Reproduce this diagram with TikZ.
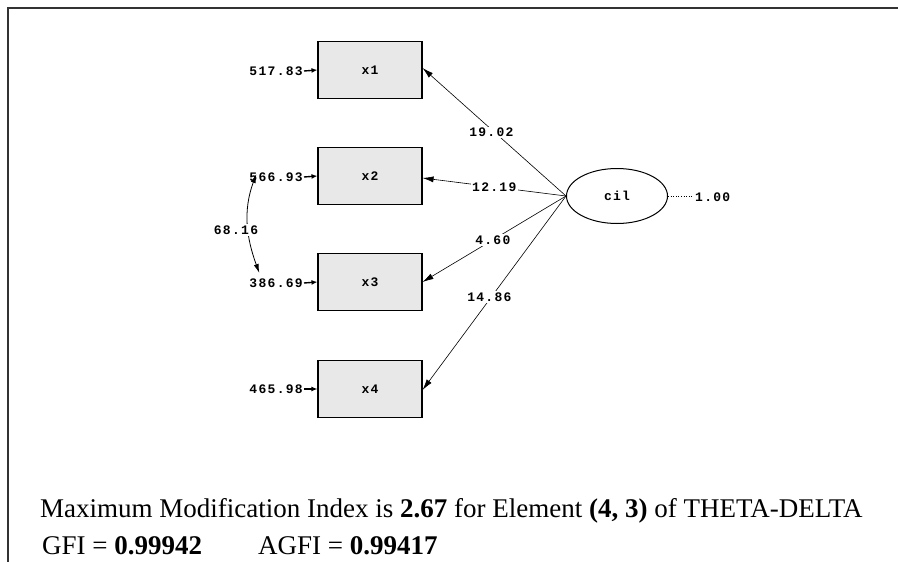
\documentclass[tikz,border=0pt]{standalone}
\usepackage{fontspec}
\setmainfont{Liberation Serif}
\newfontfamily\pathfont{Liberation Mono}[LetterSpace=10]
\usetikzlibrary{arrows.meta,shapes.geometric}
\tikzset{
  obsbox/.style={draw=black, line width=1.1pt, fill=black!9, minimum width=104pt,
    minimum height=57pt, inner sep=0pt, font=\pathfont\bfseries\fontsize{13}{13}\selectfont},
  latent/.style={ellipse, draw=black, line width=1pt, fill=white, minimum width=101pt,
    minimum height=55pt, inner sep=0pt, font=\pathfont\bfseries\fontsize{13}{13}\selectfont},
  numlab/.style={font=\pathfont\bfseries\fontsize{13}{13}\selectfont, inner sep=1pt},
  onpath/.style={numlab, fill=white, inner sep=1.5pt},
  loading/.style={line width=0.6pt, -{Latex[length=11pt,width=6pt]}},
  errarrow/.style={line width=1.4pt, -{Latex[length=6pt,width=5pt]}},
  covarrow/.style={line width=0.8pt, {Latex[length=9pt,width=5pt]}-{Latex[length=9pt,width=5pt]}},
  frameline/.style={line width=1.1pt, black!80},
  summary/.style={anchor=base west, inner sep=0pt, font=\fontsize{27}{27}\selectfont}
}
\begin{document}
\begin{tikzpicture}[x=1pt,y=-1pt]
\useasboundingbox (0,0) rectangle (898,562);

% page frame (top and left rules)
\draw[frameline] (898,8) -- (8,8) -- (8,562);

% observed indicators
\node[obsbox] (x1) at (370,70) {x1};
\node[obsbox] (x2) at (370,176) {x2};
\node[obsbox] (x3) at (370,282) {x3};
\node[obsbox] (x4) at (370,389) {x4};

% latent factor
\node[latent] (cil) at (617,196) {cil};
\coordinate (vend) at (692,196);
\node[numlab, anchor=west] (var) at (694,197) {1.00};
\draw[line width=0.6pt, dotted] (cil.east) -- (vend);

% error variances
\node[numlab, anchor=east] (e1) at (304,71) {517.83};
\node[numlab, anchor=east] (e2) at (304,177) {566.93};
\node[numlab, anchor=east] (e3) at (304,283) {386.69};
\node[numlab, anchor=east] (e4) at (304,389) {465.98};
\foreach \i in {1,...,4} \draw[errarrow] (e\i.east) -- (x\i.west);

% loadings
\draw[loading] (cil.west) -- node[onpath, pos=0.52, yshift=-3pt] {19.02} ([yshift=2pt]x1.east);
\draw[loading] (cil.west) -- node[onpath, pos=0.50] {12.19} ([yshift=-2pt]x2.east);
\draw[loading] (cil.west) -- node[onpath, pos=0.51] {4.60} (x3.east);
\draw[loading] (cil.west) -- node[onpath, pos=0.52, xshift=-2pt] {14.86} ([yshift=-1pt]x4.east);

% error covariance between x2 and x3
\draw[covarrow] ([xshift=8pt,yshift=3pt]e2.west) to[out=250,in=110]
  ([xshift=11pt,yshift=10pt]e3.west);
\node[onpath] (cov) at (236,230) {68.16};

% fit summary
\node[summary] (mi) at (40,517)
  {Maximum Modification Index is \textbf{2.67} for Element \textbf{(4, 3)} of THETA-DELTA};
\node[summary] (gfi) at (42,554) {GFI = \textbf{0.99942}};
\node[summary] (agfi) at (258,554) {AGFI = \textbf{0.99417}};
\end{tikzpicture}
\end{document}
